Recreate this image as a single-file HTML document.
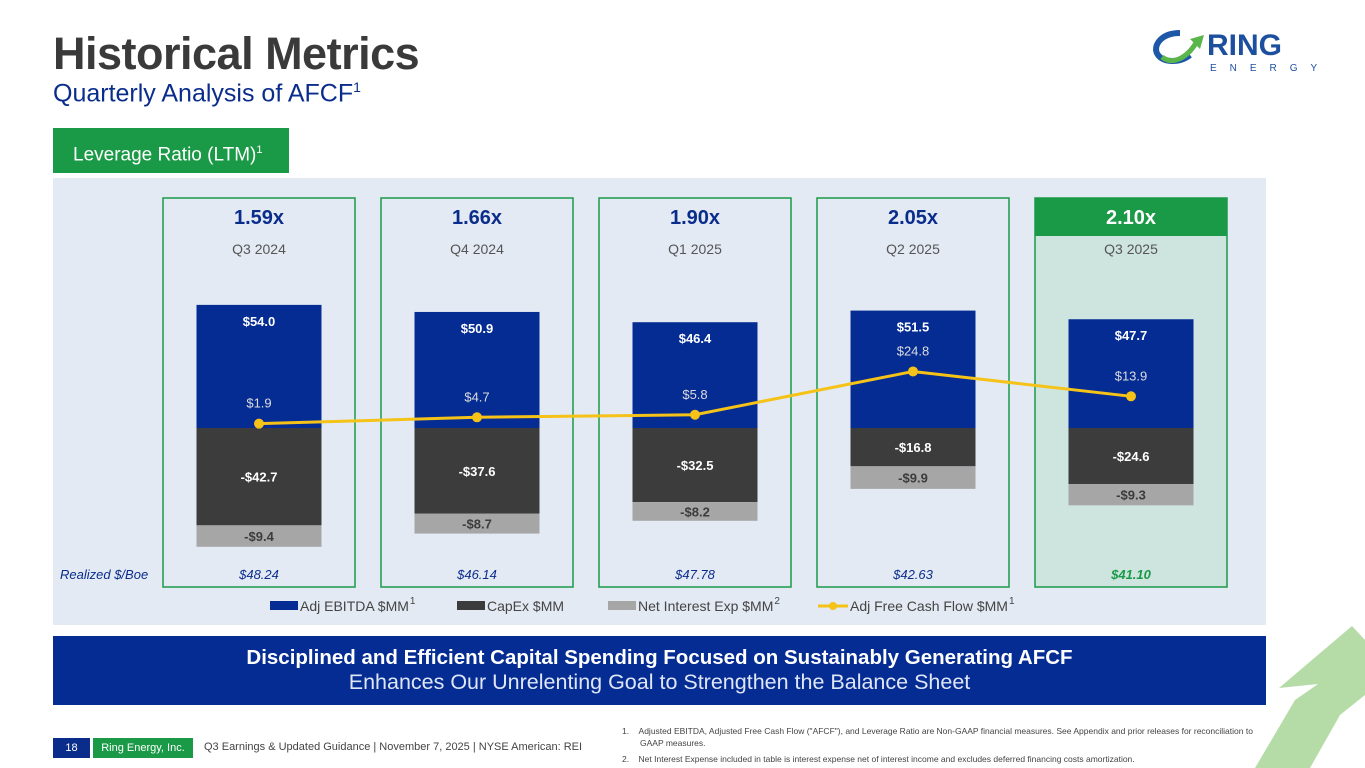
<!DOCTYPE html>
<html><head><meta charset="utf-8"><style>
*{margin:0;padding:0;box-sizing:border-box}
body{width:1365px;height:768px;overflow:hidden;background:#fff;font-family:"Liberation Sans",sans-serif;position:relative}
.abs{position:absolute}
</style></head><body>
<div class="abs" style="left:53px;top:28px;font-size:45px;font-weight:bold;color:#3a3a3a;letter-spacing:-0.5px">Historical Metrics</div>
<div class="abs" style="left:53px;top:79px;font-size:25px;color:#0a2d8c">Quarterly Analysis of AFCF<sup style="font-size:14px">1</sup></div>
<svg class="abs" style="left:1150px;top:25px" width="200" height="50">
<path d="M30 8 C10 8 2 22 8 30 C14 38 30 38 40 30" fill="none" stroke="#1d57a8" stroke-width="6"/>
<path d="M12 32 C22 40 36 34 46 18" fill="none" stroke="#5ab64a" stroke-width="5"/>
<polygon points="40,14 54,10 50,24" fill="#5ab64a"/>
<text x="57" y="30" font-size="30" font-weight="bold" fill="#1d4f9f" font-family="Liberation Sans">RING</text>
<text x="60" y="46" font-size="10" fill="#1d4f9f" letter-spacing="13" font-family="Liberation Sans">ENERGY</text>
</svg>
<div class="abs" style="left:53px;top:128px;width:236px;height:45px;background:#1a9a46;color:#fff;font-size:19px;line-height:45px;padding-left:20px">Leverage Ratio (LTM)<sup style="font-size:11px">1</sup></div>
<div class="abs" style="left:53px;top:178px;width:1213px;height:447px;background:#e3eaf4"></div>
<svg id="chart" class="abs" style="left:0;top:0" width="1365" height="768"></svg>
<div class="abs" style="left:53px;top:636px;width:1213px;height:69px;background:#052c93;color:#fff;text-align:center">
<div style="font-size:20.5px;font-weight:bold;margin-top:10px">Disciplined and Efficient Capital Spending Focused on Sustainably Generating AFCF</div>
<div style="font-size:21.5px;color:#dfe6f5">Enhances Our Unrelenting Goal to Strengthen the Balance Sheet</div></div>
<svg class="abs" style="left:1200px;top:600px" width="165" height="168">
<polygon points="152,26 165,40 165,95 140,115 110,168 55,168 95,100 118,84 79,88" fill="#b5dca6"/>
</svg>
<div class="abs" style="left:53px;top:738px;width:37px;height:20px;background:#0a2d8c;color:#fff;font-size:11px;text-align:center;line-height:20px">18</div>
<div class="abs" style="left:93px;top:738px;width:100px;height:20px;background:#1a9a46;color:#fff;font-size:11px;text-align:center;line-height:20px">Ring Energy, Inc.</div>
<div class="abs" style="left:204px;top:741px;font-size:11px;color:#444">Q3 Earnings &amp; Updated Guidance | November 7, 2025 | NYSE American: REI</div>
<div class="abs" style="left:622px;top:725px;width:640px;font-size:8.5px;color:#444;line-height:12px">
<div style="padding-left:18px;text-indent:-18px">1.&nbsp;&nbsp;&nbsp;&nbsp;Adjusted EBITDA, Adjusted Free Cash Flow ("AFCF"), and Leverage Ratio are Non-GAAP financial measures. See Appendix and prior releases for reconciliation to GAAP measures.</div>
<div style="padding-left:18px;text-indent:-18px;margin-top:4px">2.&nbsp;&nbsp;&nbsp;&nbsp;Net Interest Expense included in table is interest expense net of interest income and excludes deferred financing costs amortization.</div></div>
<script>
const quarters=["Q3 2024","Q4 2024","Q1 2025","Q2 2025","Q3 2025"];
const leverage=["1.59x","1.66x","1.90x","2.05x","2.10x"];
const ebitda=[54.0,50.9,46.4,51.5,47.7];
const capex=[-42.7,-37.6,-32.5,-16.8,-24.6];
const interest=[-9.4,-8.7,-8.2,-9.9,-9.3];
const afcf=[1.9,4.7,5.8,24.8,13.9];
const realized=["$48.24","$46.14","$47.78","$42.63","$41.10"];
const NS="http://www.w3.org/2000/svg";
const svg=document.getElementById('chart');
const y0=428,k=2.28;
const y=v=>y0-v*k;
const cx=i=>259+i*218;
function el(t,a,txt){const e=document.createElementNS(NS,t);for(const p in a)e.setAttribute(p,a[p]);if(txt!==undefined)e.textContent=txt;svg.appendChild(e);return e;}
quarters.forEach((q,i)=>{
 const x=cx(i)-96,last=i===4;
 const p=el('rect',{x:x,y:198,width:192,height:389,fill:last?'#cde4df':'none',stroke:'#1a9a46','stroke-width':1.5});
 
 if(last){const h=el('rect',{x:x,y:198,width:192,height:38,fill:'#1a9a46'});}
 const l=el('text',{x:cx(i),y:224,'text-anchor':'middle','font-size':20,'font-weight':'bold',fill:last?'#fff':'#0a2d8c'},leverage[i]);
 
 const ql=el('text',{x:cx(i),y:254,'text-anchor':'middle','font-size':14,fill:'#555'},q);
 
 const bx=cx(i)-62.5,bw=125;
 const b1=el('rect',{x:bx,y:y(ebitda[i]),width:bw,height:ebitda[i]*k,fill:'#052c93'});
 
 const b2=el('rect',{x:bx,y:y0,width:bw,height:-capex[i]*k,fill:'#3c3c3c'});
 
 const b3=el('rect',{x:bx,y:y(capex[i]),width:bw,height:-interest[i]*k,fill:'#a6a6a6'});
 
 const t1=el('text',{x:cx(i),y:y(ebitda[i])+21,'text-anchor':'middle','font-size':13,'font-weight':'bold',fill:'#fff'},'$'+ebitda[i].toFixed(1));
 
 const t2=el('text',{x:cx(i),y:y(capex[i]/2)+5,'text-anchor':'middle','font-size':13,'font-weight':'bold',fill:'#fff'},'-$'+(-capex[i]).toFixed(1));
 
 const t3=el('text',{x:cx(i),y:y(capex[i]+interest[i]/2)+5,'text-anchor':'middle','font-size':13,'font-weight':'bold',fill:'#3c3c3c'},'-$'+(-interest[i]).toFixed(1));
 
 const r=el('text',{x:cx(i),y:579,'text-anchor':'middle','font-size':13,'font-style':'italic','font-weight':last?'bold':'normal',fill:last?'#1a9a46':'#0a2d8c'},realized[i]);
 
});
const rl=el('text',{x:60,y:579,'font-size':13,'font-style':'italic',fill:'#0a2d8c'},'Realized $/Boe');

const line=el('polyline',{points:afcf.map((v,i)=>cx(i)+','+y(v)).join(' '),fill:'none',stroke:'#f5c218','stroke-width':3});

afcf.forEach((v,i)=>{
 const c=el('circle',{cx:cx(i),cy:y(v),r:5,fill:'#f5c218'});
 
 const t=el('text',{x:cx(i),y:y(v)-16,'text-anchor':'middle','font-size':13,fill:'#ddd'},'$'+v.toFixed(1));
 
});
const leg=[["Adj EBITDA $MM","1",'#052c93',270],["CapEx $MM","",'#3c3c3c',457],["Net Interest Exp $MM","2",'#a6a6a6',608],["Adj Free Cash Flow $MM","1",'#f5c218',818]];
leg.forEach(([n,s,c,x],i)=>{
 if(i===3){el('line',{x1:x,y1:606,x2:x+30,y2:606,stroke:c,'stroke-width':3});el('circle',{cx:x+15,cy:606,r:4,fill:c});}
 else el('rect',{x:x,y:601,width:28,height:9,fill:c});
 const t=el('text',{x:x+(i===3?32:30),y:611,'font-size':14,fill:'#444'},n);
 
 if(s){const w=t.getComputedTextLength();el('text',{x:x+(i===3?32:30)+w+1,y:604,'font-size':10,fill:'#444'},s);}
});
</script>
</body></html>
